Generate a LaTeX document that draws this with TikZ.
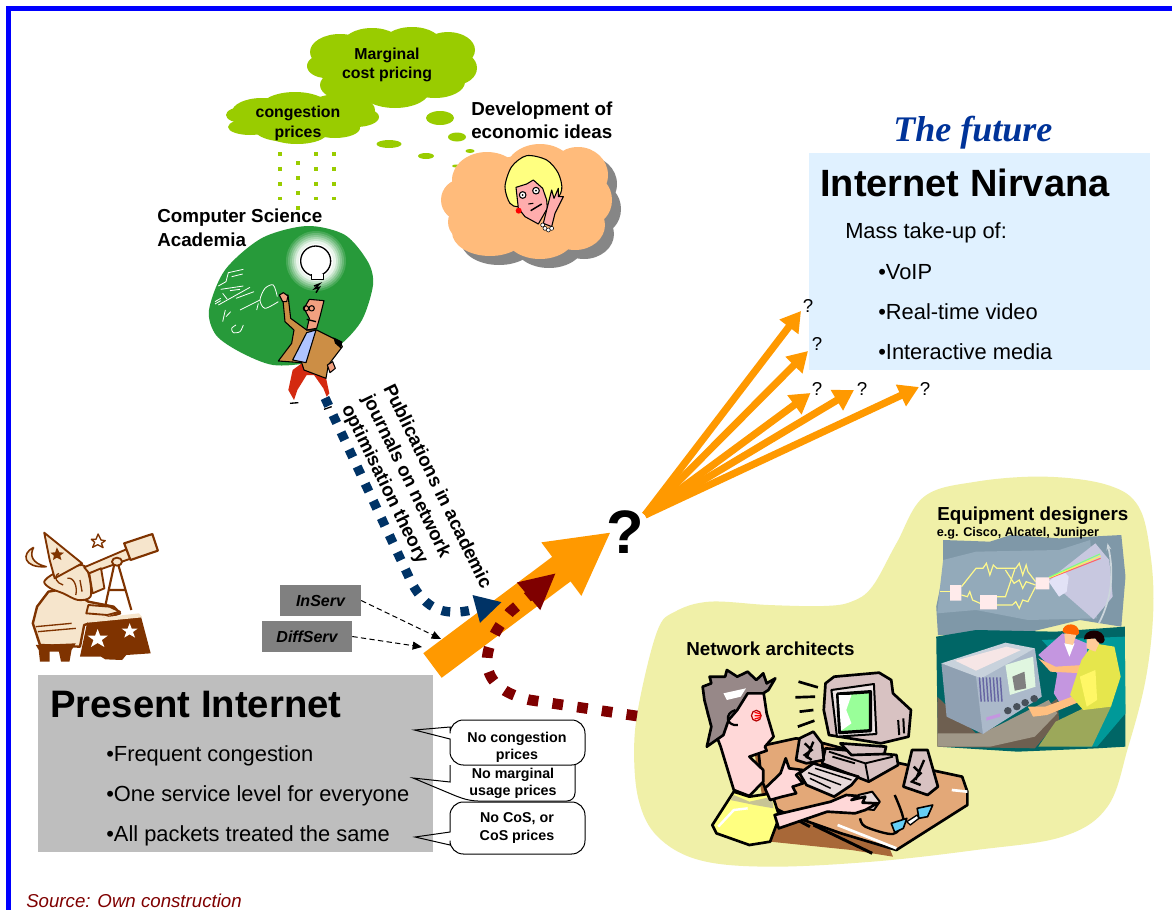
\documentclass[tikz,border=0pt]{standalone}
\usepackage{fontspec}
\setmainfont{Liberation Sans}
\newfontfamily\futurefont{Liberation Serif}
\usetikzlibrary{arrows.meta}
\definecolor{frameblue}{HTML}{0000FF}
\definecolor{leaf}{HTML}{99CC00}
\definecolor{peach}{HTML}{FFBB7B}
\definecolor{shadowgray}{HTML}{868686}
\definecolor{board}{HTML}{279A3A}
\definecolor{sky}{HTML}{E0F1FF}
\definecolor{panel}{HTML}{BEBEBE}
\definecolor{tagg}{HTML}{808080}
\definecolor{amber}{HTML}{FF9900}
\definecolor{navy}{HTML}{003366}
\definecolor{maroon}{HTML}{7F0000}
\definecolor{pale}{HTML}{F0F0A8}
\definecolor{wiz}{HTML}{7F3300}
\definecolor{cream}{HTML}{F6E5CC}
\definecolor{skin}{HTML}{FFD8D8}
\definecolor{desk}{HTML}{E3A878}
\definecolor{deskd}{HTML}{A86838}
\definecolor{monit}{HTML}{D8C2C2}
\definecolor{steel}{HTML}{7F98A8}
\definecolor{steell}{HTML}{93AABA}
\definecolor{teald}{HTML}{006666}
\definecolor{teall}{HTML}{009999}
\definecolor{fanout}{HTML}{C8C8E0}
\definecolor{fanin}{HTML}{E2E2F6}
\definecolor{tvside}{HTML}{8FA0B2}
\definecolor{tvfront}{HTML}{ABB9CA}
\definecolor{tvtop}{HTML}{C8D2DC}
\definecolor{tvpink}{HTML}{F6E6E6}
\definecolor{shirtg}{HTML}{E6E64C}
\definecolor{pants}{HTML}{9CA85A}
\definecolor{floord}{HTML}{6E5F50}
\definecolor{floorl}{HTML}{A09888}
\definecolor{purp}{HTML}{C496E0}
\definecolor{tan}{HTML}{CC8E45}
\definecolor{futureblue}{HTML}{003399}
\definecolor{sciskin}{HTML}{F2A080}
\definecolor{trouser}{HTML}{D42A10}
\definecolor{hairy}{HTML}{FFFF80}
\definecolor{shirtb}{HTML}{AFC4FF}
\tikzset{
  title/.style={font=\bfseries\fontsize{14.1}{17.3}\selectfont,inner sep=0pt,align=left},
  cloudlbl/.style={font=\bfseries\fontsize{11.9}{14.3}\selectfont,inner sep=0pt,align=center},
  bigtitle/.style={font=\bfseries\fontsize{28.5}{34}\selectfont,inner sep=0pt,anchor=base west},
  bullet/.style={font=\fontsize{16.4}{20}\selectfont,inner sep=0pt,anchor=base west},
  smallq/.style={font=\fontsize{14}{17}\selectfont,inner sep=0pt},
  calltxt/.style={font=\bfseries\fontsize{10.7}{12.8}\selectfont,inner sep=0pt,align=center},
  co/.style={draw=black,line width=.75pt},
  cofill/.style={fill=white},
  tagbox/.style={fill=tagg,minimum height=23.2pt,inner sep=0pt,font=\bfseries\itshape\fontsize{12}{14}\selectfont},
  fan/.style={draw=amber,line width=5.4pt,-{Triangle[length=15pt,width=17pt]}},
  art/.style={draw=black,line width=.8pt,line join=round},
  ink/.style={draw=black,line width=2pt,line join=round},
  dots/.style={draw=leaf,line width=3.3pt,dash pattern=on 3.3pt off 7.9pt},
  zoomA/.style={shift={(150,0)},x=.25pt,y=-.25pt},
  zoomB/.style={shift={(0,510)},x=.3157pt,y=-.25pt},
  zoomC/.style={shift={(630,480)},x=.2595pt,y=-.25pt}
}
\newcommand{\blobs}[1]{\foreach \px/\py/\ra/\rb in {#1}{\fill (\px,\py) ellipse [x radius=\ra,y radius=\rb];}}
\newcommand{\calloutA}{(450,727) [sharp corners] -- (414.5,730) -- (450,739) [rounded corners=10pt] -- (450,765) -- (585,765) -- (585,720) -- (450,720) [sharp corners] -- cycle}
\newcommand{\calloutC}{(450,832) [sharp corners] -- (415,837) -- (450,845) [rounded corners=10pt] -- (450,854) -- (585,854) -- (585,802) -- (450,802) [sharp corners] -- cycle}
\begin{document}
\begin{tikzpicture}[x=0.75pt,y=-0.75pt]
\useasboundingbox (0,0) rectangle (1172,910);
\fill[white] (0,0) rectangle (1172,910);
% frame
\fill[frameblue] (6,6) rectangle (1172,11);
\fill[frameblue] (6,6) rectangle (10.5,910);

% ---- clouds
\begin{scope}[fill=leaf]
\blobs{392/68/72/30,340/52/30/18,372/45/30/17,412/44/30/17,448/50/27/18,455/68/22/17,435/82/30/16,395/90/35/18,350/85/30/16,326/66/19/12}
\blobs{297/118/62/20,262/112/30/14,295/108/35/16,340/110/35/16,356/117/23/10,243/115/17/8,250/127/22/8,290/130/35/12,335/128/25/10,297/133/30/11}
\blobs{440/118/14/7,457/137/9/4.5,389/144/12.5/4,426/156/8/3,470/151/4.5/2,456/166/4/1.5}
\end{scope}
\node[cloudlbl,anchor=base] (marginal) at (387,78.5) {Marginal\\cost pricing};
\node[cloudlbl,anchor=base] (congestion) at (298,137) {congestion\\prices};
% dotted rain connectors
\coordinate (d1a) at (280,152); \coordinate (d1b) at (280,200);
\coordinate (d2a) at (298,161); \coordinate (d2b) at (298,210);
\coordinate (d3a) at (316,152); \coordinate (d3b) at (316,200);
\coordinate (d4a) at (334,152); \coordinate (d4b) at (334,200);
\draw[dots] (d1a) -- (d1b);
\draw[dots] (d2a) -- (d2b);
\draw[dots] (d3a) -- (d3b);
\draw[dots] (d4a) -- (d4b);

% peach cloud with shadow
\begin{scope}[fill=shadowgray,shift={(9,9)}]
\blobs{487/180/35/28,540/172/35/28,578/175/30/28,590/200/22/25,575/225/30/25,540/235/35/24,490/232/38/24,462/200/21/21,470/222/22/20,530/200/70/45}
\end{scope}
\begin{scope}[fill=peach]
\blobs{487/180/35/28,540/172/35/28,578/175/30/28,590/200/22/25,575/225/30/25,540/235/35/24,490/232/38/24,462/200/21/21,470/222/22/20,530/200/70/45}
\end{scope}
% woman head
\begin{scope}[zoomA]
\draw[art,fill=hairy] plot[smooth cycle] coordinates {(1065,560)(1085,500)(1130,467)(1190,480)(1225,520)(1235,570)(1205,610)(1110,620)(1080,610)};
\draw[art,fill=skin!80!red] (1098,562) -- (1130,552) -- (1150,540) -- (1178,565) -- (1190,600) -- (1192,625) -- (1165,672) -- (1125,650) -- (1105,625) -- cycle;
\fill[red] (1106,632) circle (9);
\draw[art,fill=white] (1118,585) circle (10) (1158,572) circle (10);
\fill (1118,585) circle (3) (1158,572) circle (3);
\draw[black,line width=1.1pt] (1142,632) -- (1175,612);
\draw[art] (1135,612) -- (1150,610);
\draw[art,fill=skin!80!red] (1180,670) -- (1195,610) -- (1205,570) -- (1212,595) -- (1225,565) -- (1225,590) -- (1240,590) -- (1215,640) -- (1205,680) -- cycle;
\foreach \bx/\by in {1178/675,1185/685,1195/690,1205/685}{\draw[black,fill=white,line width=.4pt] (\bx,\by) circle (6);}
\end{scope}
\node[title,anchor=base west] (devel) at (471,138.5) {Development of\\economic ideas};

% ---- Academia board
\fill[board] plot[smooth cycle] coordinates {(209,310)(225,270)(262,238)(307,226)(345,235)(368,262)(373,285)(362,320)(340,345)(310,362)(273,365)(240,352)(216,335)};
\foreach \r/\m in {32/0,30/15,28/30,26/45,24/60,22/75,20/90,17/100}{\fill[white!\m!board] (316,261) circle (\r);}
\begin{scope}[zoomA]
\draw[art,fill=white,line width=1pt] (497,783) circle (45);
\draw[art,fill=white,line width=.8pt] (485,822) -- (485,838) -- (520,838) -- (520,822);
\draw[black,line width=1.1pt] (492,858) -- (508,852) -- (494,866) -- (508,862) -- (498,878);
% chalk
\draw[white,line width=.6pt] (205,858) -- (228,845) -- (235,818) -- (280,808);
\draw[white,line width=.6pt] (245,830) -- (278,822) (212,868) -- (280,858);
\draw[white,line width=.6pt] (195,905) -- (212,895) (195,912) -- (212,902) (218,880) -- (232,898) (240,872) -- (270,868);
\draw[white,line width=.6pt] (205,915) -- (300,862) (258,895) -- (312,875);
\draw[white,line width=.6pt] (218,965) -- (226,930) (228,950) -- (242,935);
\draw[white,line width=.6pt] plot[smooth] coordinates {(382,890)(370,855)(345,865)(330,900)(345,925)(385,905)};
\draw[white,line width=.6pt] (270,930) -- (330,900) (320,930) -- (325,910);
\draw[white,line width=.6pt] plot[smooth] coordinates {(258,975)(245,985)(250,998)(270,995)(280,975)};
\end{scope}
\node[title,anchor=base west] (academia) at (157,246) {Computer Science\\Academia};

% ---- Nirvana
\fill[sky] (809,153) rectangle (1150,370);
\node[bigtitle] (nirvana) at (820,196) {Internet Nirvana};
\node[bullet] (mass) at (845,238) {Mass take-up of:};
\node[bullet] (voip) at (878,279) {•VoIP};
\node[bullet] (rtv) at (878,319) {•Real-time video};
\node[bullet] (imedia) at (878,359) {•Interactive media};
\node[inner sep=0pt,anchor=base west,text=futureblue,font=\futurefont\bfseries\itshape\fontsize{27}{32}\selectfont] (future) at (893,141) {The future};

% ---- yellow region
\fill[pale,zoomC] plot[smooth cycle,tension=.6] coordinates {(12,800)(30,650)(80,450)(130,395)(230,365)(400,375)(560,378)(640,365)(700,320)(770,190)(850,50)(1000,5)(1200,-10)(1380,15)(1470,80)(1505,230)(1512,400)(1490,600)(1440,800)(1380,980)(1250,1070)(1000,1110)(700,1145)(400,1160)(200,1140)(80,1070)(25,960)};

% ---- equipment illustration
\begin{scope}[zoomC]
\fill[steel] (905,180) -- (1040,185) -- (1100,165) -- (1240,175) -- (1420,165) -- (1432,290) -- (1420,440) -- (1300,420) -- (1100,470) -- (890,465) -- (885,380) -- (895,330) -- (905,280) -- cycle;
\fill[steell] (905,240) -- (1000,215) -- (1240,210) -- (1330,180) -- (1350,415) -- (1150,420) -- (1000,390) -- (888,400) -- (895,330) -- cycle;
\fill[fanout] (1210,300) -- (1345,190) -- (1385,240) -- (1395,350) -- (1340,418) -- cycle;
\fill[fanin] (1210,305) -- (1250,270) -- (1268,290) -- (1262,335) -- (1240,350) -- cycle;
\draw[red!60!white,line width=.8pt] (1212,295) -- (1360,235);
\draw[yellow!70!white,line width=.8pt] (1212,293) -- (1360,228);
\draw[green!50!white,line width=.8pt] (1212,291) -- (1358,222);
\draw[white!60!steel,line width=1.3pt,-{Stealth[length=5pt]}] (1355,430) .. controls (1400,340) and (1395,260) .. (1380,190);
\begin{scope}[draw=yellow!45!white,line width=.9pt]
\draw (895,335) -- (925,335);
\draw (958,320) -- (1000,265) -- (1020,265) -- (1030,250) -- (1040,285) -- (1050,255) -- (1060,265) -- (1115,265) -- (1125,250) -- (1135,285) -- (1145,255) -- (1150,275) -- (1172,305);
\draw (958,345) -- (975,350) -- (982,335) -- (990,360) -- (1012,370);
\draw (1060,375) -- (1105,375) -- (1115,365) -- (1125,385) -- (1135,360) -- (1150,365) -- (1172,320);
\draw (1060,350) -- (1085,350) -- (1112,268);
\draw (1085,270) -- (1110,310) -- (1125,300) -- (1135,325) -- (1145,305) -- (1172,315);
\end{scope}
\fill[red!8!white] (925,315) rectangle (958,362) (1012,345) rectangle (1060,388) (1172,292) rectangle (1212,328);
\fill[teald] (885,470) -- (1000,450) -- (1230,455) -- (1430,440) -- (1432,800) -- (1350,805) -- (1120,815) -- (890,800) -- cycle;
\fill[teall] (1190,480) -- (1430,470) -- (1432,700) -- (1350,800) -- (1270,800) -- (1330,640) -- cycle;
\fill[floord] (888,650) -- (1000,760) -- (1180,700) -- (1235,655) -- (1240,720) -- (1170,805) -- (888,800) -- cycle;
\fill[floorl] (890,760) -- (1020,760) -- (1210,660) -- (1235,700) -- (1170,770) -- (1040,800) -- (890,800) -- cycle;
% purple person
\fill[purp] (1180,525) -- (1250,460) -- (1320,490) -- (1325,640) -- (1240,665) -- (1225,640) -- (1235,580) -- cycle;
\fill[white] (1255,490) -- (1285,490) -- (1270,530) -- cycle;
\fill[orange!80!red] (1250,455) .. controls (1250,425) and (1300,425) .. (1298,460) .. controls (1295,470) and (1270,470) .. (1250,455);
\fill[orange!40!white] (1255,460) -- (1290,465) -- (1280,495) -- (1258,490) -- cycle;
% TV
\fill[tvside] (900,550) -- (1015,590) -- (1020,762) -- (915,710) -- cycle;
\fill[tvfront] (1000,590) -- (1170,505) -- (1190,650) -- (1020,762) -- cycle;
\fill[tvtop] (900,550) -- (1085,488) -- (1170,505) -- (1015,595) -- cycle;
\fill[tvpink] (940,542) -- (1088,500) -- (1130,510) -- (1000,572) -- cycle;
\fill[black!30!green!12!white] (1085,555) -- (1165,530) -- (1172,620) -- (1098,645) -- cycle;
\fill[black!50!white] (1105,590) -- (1140,575) -- (1145,625) -- (1112,632) -- cycle;
\foreach \gx in {1010,1020,...,1075}{\draw[black!60!blue!60!white,line width=1.1pt] (\gx,592) -- (\gx+5,665);}
\foreach \kx/\ky in {1092/692,1118/680,1142/668,1168/656}{\fill[black!50!tvside] (\kx,\ky) circle (11);}
\fill[purp] (1030,712) -- (1070,700) -- (1070,710) -- (1030,722) -- cycle;
% yellow person
\fill[pants] (1180,800) -- (1230,725) -- (1320,680) -- (1390,680) -- (1335,800) -- cycle;
\fill[orange!50!white] (1180,535) -- (1230,560) -- (1310,555) -- (1310,580) -- (1215,575) -- cycle;
\fill[orange!50!white] (1150,680) -- (1200,680) -- (1290,645) -- (1300,665) -- (1205,705) -- (1165,710) -- cycle;
\fill[shirtg] (1305,540) -- (1340,490) -- (1400,500) -- (1418,590) -- (1390,680) -- (1310,690) -- (1272,645) -- cycle;
\fill[yellow!60!white] (1300,590) -- (1345,570) -- (1350,660) -- (1320,680) -- cycle;
\fill[orange!40!white] (1320,470) -- (1360,480) -- (1345,515) -- (1320,505) -- cycle;
\fill[black!90!red] (1312,478) .. controls (1310,445) and (1370,440) .. (1372,480) .. controls (1368,495) and (1355,495) .. (1345,475) -- cycle;
\end{scope}
\node[title,anchor=base west] (equip) at (937,520) {Equipment designers};
\node[inner sep=0pt,anchor=base west,font=\bfseries\fontsize{9.5}{11}\selectfont] (eg) at (936.5,536) {e.g. Cisco, Alcatel, Juniper};

% ---- network architect illustration
\begin{scope}[zoomC]
\fill[deskd] (360,820) -- (480,775) -- (640,820) -- (760,1130) -- (640,1110) -- (405,1085) -- cycle;
\draw[ink,fill=desk] (370,800) -- (480,775) -- (560,790) -- (780,850) -- (960,890) -- (975,935) -- (975,975) -- (770,1110) -- (610,1060) -- (420,990) -- (380,900) -- cycle;
\draw[black,line width=2.2pt] (530,1035) -- (700,1120) (420,985) -- (520,1040);
\draw[white,line width=2pt] (600,1035) -- (770,1105) (930,930) -- (975,935);
% cord, monitor, cpu
\draw[black,line width=1.8pt] plot[smooth] coordinates {(665,1015)(680,1040)(760,1062)(790,1020)(765,945)};
\draw[ink,fill=monit] (565,805) -- (770,825) -- (775,855) -- (690,905) -- (555,850) -- cycle;
\draw[black,line width=1.4pt] (575,815) -- (680,850) -- (760,830) (680,850) -- (690,905) (585,830) -- (650,850);
\draw[ink,fill=monit] (608,790) -- (740,800) -- (735,822) -- (640,825) -- cycle;
\draw[ink,fill=monit] (565,610) -- (590,590) -- (720,578) -- (755,600) -- (760,640) -- (812,690) -- (805,770) -- (725,790) -- (575,765) -- (560,690) -- cycle;
\draw[ink,line width=1.5pt,fill=monit!45!white] (582,630) -- (705,612) -- (712,762) -- (598,770) -- cycle;
\draw[ink,line width=2.4pt,fill=green!40!white] (600,642) -- (695,635) -- (695,752) -- (606,758) -- cycle;
\fill[white] (603,645) -- (640,645) -- (625,690) -- (640,730) -- (610,752) -- cycle;
\draw[black,line width=1.5pt] (775,720) -- (778,765) (790,715) -- (792,760);
% motion lines
\draw[black,line width=2pt] (487,605) -- (543,622) (478,652) -- (535,650) (490,695) -- (530,690) (485,740) -- (533,722);
% speakers
\draw[ink,fill=monit] (480,840) -- (490,775) -- (530,755) -- (555,790) -- (560,840) -- (510,850) -- cycle;
\draw[black,line width=1.8pt] (505,790) -- (525,810) -- (505,825) -- (525,840) (530,785) -- (510,835);
\draw[ink,fill=monit] (790,920) -- (815,810) -- (860,810) -- (890,920) -- (860,945) -- cycle;
\draw[black,line width=1.8pt] (820,860) -- (840,880) -- (815,905) -- (840,915) (850,840) -- (825,900);
% keyboard
\draw[ink,fill=monit!60!white] (490,880) -- (530,850) -- (660,890) -- (640,915) -- (590,950) -- (510,915) -- cycle;
\draw[black,line width=1.1pt] (515,878) -- (610,915) (535,865) -- (640,900) (520,895) -- (580,925);
% mouse & glasses
\draw[ink,line width=1.5pt,fill=monit!60!white] (660,945) -- (700,935) -- (722,965) -- (705,990) -- (665,985) -- cycle;
\draw[ink,line width=1.2pt,fill=cyan!60!white] (755,1030) -- (800,1015) -- (790,1045) -- (765,1057) -- cycle;
\draw[ink,line width=1.2pt,fill=cyan!60!white] (830,985) -- (875,975) -- (860,1010) -- (835,1015) -- cycle;
\draw[ink,line width=1pt,fill=white] (800,1025) -- (830,1005) -- (835,1015) -- (810,1035) -- cycle;
% person
\draw[ink,fill=hairy] (238,1035) -- (300,935) -- (345,950) -- (410,940) -- (432,1010) -- (405,1085) -- (345,1095) -- (250,1060) -- cycle;
\fill[yellow!50!black!50!white] (300,945) -- (345,965) -- (410,950) -- (415,985) -- (360,975) -- (290,960) -- cycle;
\draw[white,line width=1.8pt] (255,1040) -- (300,990) -- (340,985);
\draw[ink,fill=skin] (262,800) -- (225,700) -- (240,640) -- (330,620) -- (385,630) -- (395,700) -- (415,770) -- (390,800) -- (395,812) -- (345,830) -- (385,870) -- (385,905) -- (345,948) -- (300,930) -- cycle;
\draw[ink,fill=black!30!monit] (210,620) -- (235,610) -- (230,590) -- (275,590) -- (280,570) -- (310,590) -- (340,575) -- (365,600) -- (385,580) -- (395,610) -- (420,595) -- (400,630) -- (385,640) -- (340,640) -- (310,690) -- (285,720) -- (270,765) -- (222,800) -- (235,740) -- (215,660) -- cycle;
\fill[white] (270,640) -- (335,625) -- (320,650) -- (280,660) -- cycle;
\draw[black,line width=1.7pt] (305,690) .. controls (270,700) and (280,740) .. (312,735);
\draw[red!70!black,line width=.9pt,fill=skin] (365,707) ellipse (14 and 16);
\draw[red,line width=.9pt] (360,697) -- (378,702) (360,707) -- (378,707) (360,717) -- (378,712);
% hands & arms
\draw[ink,fill=skin] (390,925) -- (435,880) -- (450,835) -- (460,865) -- (500,870) -- (480,885) -- (500,910) -- (470,920) -- (480,940) -- (440,950) -- (405,960) -- cycle;
\draw[ink,fill=skin] (418,1005) -- (580,965) -- (625,945) -- (660,948) -- (640,960) -- (680,950) -- (672,968) -- (715,970) -- (680,990) -- (650,1000) -- (570,995) -- (430,1045) -- cycle;
\end{scope}
\node[title,anchor=base west] (archs) at (686,655) {Network architects};

% ---- Wizard
\begin{scope}[zoomB]
\begin{scope}[line width=1pt,line join=round]
% moon and star
\draw[wiz,line width=1.2pt,fill=cream] (80,112) .. controls (50,130) and (55,175) .. (110,170) .. controls (75,160) and (70,135) .. (80,112);
\draw[wiz,fill=white] (233,72) -- (240,90) -- (250,92) -- (241,100) -- (245,113) -- (232,104) -- (220,112) -- (225,97) -- (217,88) -- (228,88) -- cycle;
% telescope tripod
\draw[wiz,line width=1.6pt] (272,160) -- (248,300) (280,160) -- (312,300) (260,240) -- (298,240);
% body
\draw[wiz,line width=1.8pt,fill=cream] (78,340) -- (88,290) -- (115,245) -- (160,235) -- (210,275) -- (270,290) -- (285,310) -- (240,330) -- (200,345) -- (190,410) -- (95,405) -- cycle;
\draw[wiz,line width=1pt] (85,350) -- (170,340) (90,365) -- (180,355);
% stool
\fill[wiz] (85,405) -- (180,400) -- (170,420) -- (165,455) -- (145,455) -- (140,425) -- (118,425) -- (118,455) -- (95,455) -- (92,420) -- cycle;
% hair, head and hat
\draw[wiz,line width=1.4pt,fill=cream] plot[smooth cycle] coordinates {(130,190)(105,215)(120,235)(150,250)(185,270)(215,260)(212,200)(195,165)};
\draw[wiz,line width=1.4pt,fill=cream] (105,68) -- (195,160) -- (130,205) -- (118,150) -- cycle;
\fill[wiz] (135,112) -- (141,127) -- (152,128) -- (143,137) -- (146,150) -- (135,143) -- (126,150) -- (128,137) -- (120,128) -- (131,127) -- cycle;
\draw[wiz,line width=1pt] (160,205) .. controls (175,200) and (185,230) .. (180,255) (190,210) -- (195,245) (140,190) .. controls (125,200) and (135,220) .. (150,225);
% telescope
\draw[wiz,line width=1.4pt,fill=cream] (200,172) -- (300,118) -- (312,145) -- (212,190) -- cycle;
\draw[wiz,line width=1.6pt,fill=cream] (295,100) -- (362,72) -- (375,122) -- (310,150) -- cycle;
\draw[wiz,line width=1.4pt,fill=cream] (278,155) circle (12);
% arm
\draw[wiz,line width=1.4pt,fill=cream] (212,190) -- (240,175) -- (248,235) -- (220,250) -- cycle;
\draw[wiz,line width=1.4pt,fill=cream] (210,285) -- (260,290) -- (285,305) -- (255,315) -- (205,310) -- cycle;
% table
\fill[wiz] (208,332) -- (335,320) -- (358,430) -- (300,435) -- (290,450) -- (250,448) -- (240,440) -- (190,440) -- cycle;
\fill[cream] (205,328) -- (330,310) -- (338,322) -- (208,338) -- cycle;
\foreach \sx/\sy/\ss in {232/385/1,308/362/.8}{
\fill[white,shift={(\sx,\sy)}] (0,-28*\ss) -- (6*\ss,-8*\ss) -- (24*\ss,-8*\ss) -- (10*\ss,5*\ss) -- (16*\ss,26*\ss) -- (0,14*\ss) -- (-16*\ss,26*\ss) -- (-10*\ss,5*\ss) -- (-24*\ss,-8*\ss) -- (-6*\ss,-8*\ss) -- cycle;}
\end{scope}
\end{scope}

% ---- callout bodies, below the panel so that their tails show the grey
\fill[white] (450,760) rectangle (575,801);
\fill[white] \calloutA;
\fill[white] \calloutC;

% ---- Present Internet
\fill[panel] (38,675) rectangle (433,852);
\node[inner sep=0pt,anchor=base west,font=\bfseries\fontsize{28.7}{34}\selectfont] (present) at (50,717) {Present Internet};
\node[bullet] (fc) at (106,761) {•Frequent congestion};
\node[bullet] (sl) at (106,801) {•One service level for everyone};
\node[bullet] (ap) at (106,841) {•All packets treated the same};

% callout outlines
\fill[white] (450,796) -- (470,801) -- (450,801) -- cycle;
\draw[co] (450,765) -- (450,782) -- (413,778) -- (456,796) [rounded corners=6pt] -- (470,801) -- (575,801) -- (575,765);
\draw[co] \calloutA;
\draw[co] \calloutC;
\node[calltxt] (c1) at (517,747) {No congestion\\prices};
\node[calltxt] (c2) at (513,783.5) {No marginal\\usage prices};
\node[calltxt] (c3) at (517,828) {No CoS, or\\CoS prices};

% tags
\node[tagbox,minimum width=60.7pt] (inserv) at (320.5,600.5) {InServ};
\node[tagbox,minimum width=67.5pt] (diffserv) at (307,636.5) {DiffServ};
\coordinate (inEnd) at (441,639);
\coordinate (diffEnd) at (422,647);
\draw[black,line width=.75pt,dash pattern=on 4pt off 2.5pt,-{Triangle[length=7pt,width=6pt]}] (inserv.east) -- (inEnd);
\draw[black,line width=.75pt,dash pattern=on 4pt off 2.5pt,-{Triangle[length=7pt,width=6pt]}] (diffserv.east) -- (diffEnd);

% main arrow
\node[inner sep=0pt,font=\bfseries\fontsize{46}{50}\selectfont] (bigq) at (625,532) {?};
\coordinate (mainTail) at (432.5,665.5);
\coordinate (mainTip) at (611,532);
\draw[amber,line width=23pt,-{Triangle[length=46.5pt,width=46.5pt]}] (mainTail) -- (mainTip);

% blue dashed
\coordinate (blueStart) at (325,398);
\coordinate (blueMid) at (408,575);
\coordinate (blueTip) at (502,602);
\draw[navy,line width=7pt,dash pattern=on 6.5pt off 7.7pt,-{Triangle[length=20pt,width=20pt]}] (blueStart) -- (blueMid) .. controls (425,615) and (450,616) .. (blueTip);

% red dashed
\coordinate (redStart) at (637,716);
\coordinate (redMid) at (530,700);
\coordinate (redTurn) at (510,612);
\coordinate (redTip) at (556,573);
\draw[maroon,line width=8pt,dash pattern=on 8pt off 10.7pt,-{Triangle[length=27pt,width=25pt]}] (redStart) -- (redMid) .. controls (475,688) and (478,650) .. (redTurn) -- (redTip);

% fan arrows
\coordinate (fanS) at (645,515);
\node[smallq] (q1) at (808,306) {?};
\node[smallq] (q2) at (817,344) {?};
\node[smallq] (q3) at (817,389) {?};
\node[smallq] (q4) at (862,389) {?};
\node[smallq] (q5) at (925,389) {?};
\coordinate (t1) at (801,311);
\coordinate (t2) at (808,351);
\coordinate (t3) at (810.5,393);
\coordinate (t4) at (854,390);
\coordinate (t5) at (919,387);
\foreach \t in {t1,t2,t3,t4,t5}{\draw[fan] (fanS) -- (\t);}

% ---- scientist (over board and blue line)
\begin{scope}[zoomA]
\fill[trouser] (462,1085) -- (428,1110) -- (415,1170) -- (432,1200) -- (442,1170) -- (470,1125) -- (492,1125) -- (520,1165) -- (530,1190) -- (538,1180) -- (525,1120) -- cycle;
\draw[black,line width=1pt] (420,1210) -- (445,1208) (522,1228) -- (545,1220);
\draw[art,fill=tan] (432,990) -- (405,965) -- (398,890) -- (414,885) -- (422,955) -- (470,990) -- (500,990) -- (570,1025) -- (577,1040) -- (535,1095) -- (528,1135) -- (462,1110) -- (455,1088) -- (385,1083) -- (425,1030) -- cycle;
\draw[art,fill=shirtb] (470,998) -- (498,990) -- (468,1088) -- (428,1080) -- cycle;
\fill[black] (550,1012) -- (577,1025) -- (572,1045) -- (555,1030) -- cycle;
\draw[art,fill=sciskin] (388,885) -- (400,878) -- (414,888) -- (410,905) -- (398,905) -- cycle;
\draw[art,fill=sciskin] (532,1095) -- (548,1085) -- (556,1105) -- (540,1118) -- cycle;
\draw[art,fill=sciskin] (478,898) -- (522,902) -- (510,950) -- (500,985) -- (470,990) -- (478,955) -- (462,925) -- cycle;
\draw[art] (468,925) circle (8) (485,925) circle (8);
\draw[black,line width=1pt] (470,958) -- (498,965);
\end{scope}
\node[title,rotate=-64] (pubs) at (416,497) {Publications in academic\\journals on network\\optimisation theory};
\node[inner sep=0pt,anchor=base west,text=maroon,font=\itshape\fontsize{14}{17}\selectfont] (source) at (26,907) {Source: Own construction};
\end{tikzpicture}
\end{document}
